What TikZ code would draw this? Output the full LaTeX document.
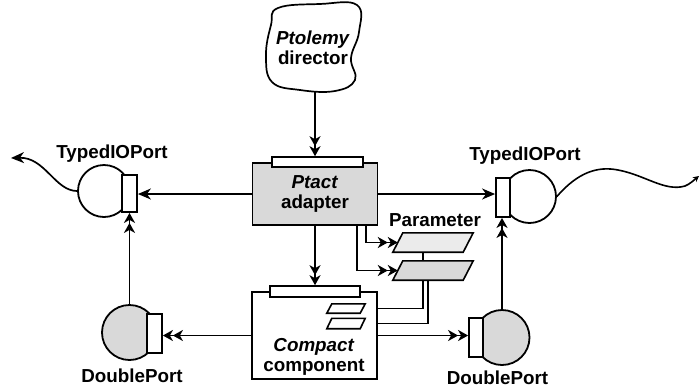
\documentclass[tikz,border=0pt]{standalone}
\usepackage{fontspec}
\setmainfont{Liberation Sans}
\usetikzlibrary{positioning,arrows.meta,backgrounds}
\newcommand{\figfont}{\fontsize{18.8}{19.5}\selectfont\bfseries}

\begin{document}
\begin{tikzpicture}[x=1pt, y=-1pt,
  box/.style={draw, line width=1.8pt, fill=white, minimum width=125pt, align=center, inner sep=0pt, font=\figfont},
  bar/.style={draw, line width=1.6pt, fill=white, minimum height=10pt, inner sep=0pt},
  plug/.style={draw, line width=1.8pt, fill=white, minimum width=14.5pt, minimum height=38pt, inner sep=0pt},
  ball/.style={draw, line width=1.8pt, circle, inner sep=0pt},
  pbox/.style={inner sep=0pt, minimum width=70pt, minimum height=19pt},
  arr/.style={-{Stealth[length=13pt,width=11pt,inset=4pt]}, line width=1.7pt},
  arr2/.style={-{Stealth[length=10pt,width=11pt,inset=3pt]Stealth[length=10pt,width=11pt,inset=3pt]}, line width=1.7pt},
  arr3/.style={-{Stealth[length=10pt,width=8pt,inset=3pt]}, line width=1.5pt},
  lbl/.style={font=\figfont, align=center, inner sep=0pt}
]
\useasboundingbox (0,0) rectangle (700,389);

% director
\draw[line width=1.7pt] plot[smooth cycle, tension=0.7] coordinates {(278,8) (320,4) (357,5) (359,32) (351,58) (355,80) (335,91) (300,90) (272,82) (266,55) (271,25)};
\node[lbl] (dir) at (313,48) {\textit{Ptolemy}\\director};
\coordinate (dirbot) at (315,91);

% actors
\node[box, minimum height=62pt, fill=black!15] (adapter) at (315,194) {\textit{Ptact}\\adapter};
\node[bar, minimum width=91pt] (abar) at (317.5,162) {};
\node[box, minimum height=87pt] (compact) at (314.5,335.5) {};
\node[bar, minimum width=90pt, minimum height=11pt] (cbar) at (315,291.5) {};
\node[lbl] (ctxt) at (314,357) {\textit{Compact}\\component};

% parameters
\node[pbox] (par1) at (433,242.5) {};
\node[pbox] (par2) at (433,270.5) {};
\node[pbox, minimum width=33pt, minimum height=9pt] (sp1) at (346,308.5) {};
\node[pbox, minimum width=33pt, minimum height=10pt] (sp2) at (346,323.5) {};
\foreach \p/\s/\c in {par1/5/black!8, par2/5/black!15, sp1/2.5/white, sp2/2.5/white}
  \draw[line width=1.6pt, fill=\c] ([xshift=-\s pt]\p.south west) -- ([xshift=\s pt]\p.north west)
    -- ([xshift=\s pt]\p.north east) -- ([xshift=-\s pt]\p.south east) -- cycle;
\node[lbl] (parlbl) at (435,220) {Parameter};

% ports
\node[ball, minimum size=52pt] (ltc) at (104,191) {};
\node[plug, minimum width=15pt, minimum height=37pt] (ltr) at (129.5,193.5) {};
\node[ball, minimum size=53pt] (rtc) at (529.5,196.5) {};
\node[plug, minimum width=14pt, minimum height=39pt] (rtr) at (503,197.5) {};
\node[ball, minimum size=55pt, fill=black!15] (ldc) at (129.5,332.5) {};
\node[plug, minimum width=15pt, minimum height=39pt] (ldr) at (154.5,333.5) {};
\node[ball, minimum size=55pt, fill=black!15] (rdc) at (502,337.5) {};
\node[plug, minimum width=14pt, minimum height=39pt] (rdr) at (476,337.5) {};

\node[lbl] (ltlbl) at (112,154) {TypedIOPort};
\node[lbl] (rtlbl) at (525,156) {TypedIOPort};
\node[lbl] (ldlbl) at (132,375.5) {DoublePort};
\node[lbl] (rdlbl) at (497.5,378) {DoublePort};

\coordinate (lend) at (11,158);
\coordinate (rend) at (699,176);

\begin{scope}[on background layer]
\draw[arr2] (dirbot) -- (dirbot |- abar.north);
\draw[arr2] (adapter.south) -- (adapter.south |- cbar.north);
\draw[arr] (adapter.west) -- (adapter.west -| ltr.east);
\draw[arr] (adapter.east) -- (adapter.east -| rtr.west);
\draw[arr2] ([xshift=51pt]adapter.south) |- (par1.west);
\draw[arr2] ([xshift=42pt]adapter.south) |- (par2.west);
\draw[arr3] ([xshift=-10pt]par1.south) |- (sp1.east);
\draw[arr3] ([xshift=-5pt]par2.south) |- (sp2.east);
\draw[arr2] (compact.west) -- (compact.west -| ldr.east);
\draw[arr2] (compact.east) -- (compact.east -| rdr.west);
\draw[arr2] (ldc.north) -- (ldc.north |- ltr.south);
\draw[arr2] (rdc.north) -- (rdc.north |- rtr.south);
\draw[arr] (ltc.west) .. controls (55,191) and (45,157) .. (lend);
\draw[-{Stealth[length=6pt,width=6pt]}, line width=1.6pt] (rtc.east) .. controls (578,172) and (598,166) .. (618,170) .. controls (645,175) and (665,192) .. (685,186) .. controls (690,184) and (694,180) .. (rend);
\end{scope}
\end{tikzpicture}
\end{document}
